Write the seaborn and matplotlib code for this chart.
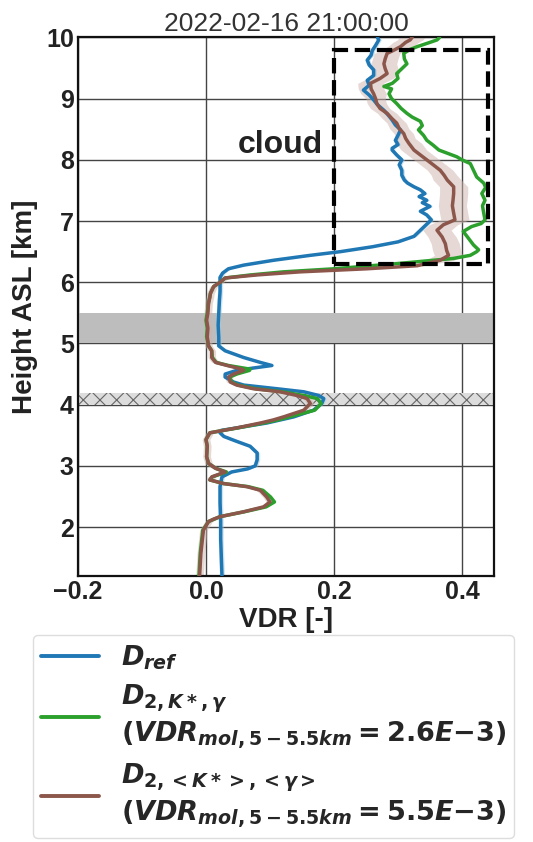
import numpy as np
import pandas as pd
import matplotlib
matplotlib.use("Agg")
import matplotlib.pyplot as plt
from matplotlib.patches import Rectangle
import seaborn as sns

# ---- profiles: height [km ASL] and volume depolarisation ratio [-] ----
ref_height = [1.20, 1.50, 1.80, 2.10, 2.40, 2.66, 2.82, 2.90, 2.95, 3.00,
              3.10, 3.21, 3.32, 3.40, 3.48, 3.54, 3.58, 3.62, 3.70, 3.80,
              3.91, 4.02, 4.10, 4.15, 4.21, 4.26, 4.32, 4.37, 4.45, 4.50,
              4.56, 4.60, 4.64, 4.69, 4.77, 4.88, 4.96, 5.10, 5.30, 5.50,
              5.70, 5.85, 6.00, 6.08, 6.15, 6.22, 6.28, 6.36, 6.44, 6.50,
              6.58, 6.66, 6.75, 6.85, 6.95, 7.02, 7.10, 7.16, 7.24, 7.30,
              7.34, 7.40, 7.45, 7.51, 7.56, 7.62, 7.67, 7.75, 7.83, 7.92,
              8.00, 8.08, 8.16, 8.19, 8.25, 8.32, 8.40, 8.49, 8.57, 8.65,
              8.73, 8.81, 8.90, 8.98, 9.06, 9.14, 9.22, 9.30, 9.38, 9.47,
              9.55, 9.63, 9.71, 9.79, 9.87, 9.96, 10.0]
ref_vdr = [0.025, 0.024, 0.023, 0.023, 0.022, 0.022, 0.025, 0.040, 0.065, 0.077,
           0.080, 0.080, 0.069, 0.048, 0.028, 0.022, 0.024, 0.048, 0.095, 0.137,
           0.168, 0.181, 0.184, 0.176, 0.153, 0.111, 0.059, 0.043, 0.030, 0.030,
           0.048, 0.075, 0.103, 0.085, 0.059, 0.030, 0.020, 0.020, 0.019, 0.020,
           0.021, 0.022, 0.022, 0.022, 0.026, 0.035, 0.059, 0.106, 0.163, 0.210,
           0.260, 0.300, 0.325, 0.335, 0.345, 0.352, 0.345, 0.335, 0.350, 0.338,
           0.345, 0.333, 0.342, 0.335, 0.325, 0.315, 0.310, 0.306, 0.306, 0.302,
           0.306, 0.298, 0.291, 0.291, 0.300, 0.296, 0.300, 0.304, 0.296, 0.291,
           0.285, 0.278, 0.268, 0.262, 0.255, 0.246, 0.255, 0.252, 0.262, 0.262,
           0.255, 0.252, 0.258, 0.260, 0.265, 0.270, 0.268]

k_height = [1.20, 1.57, 1.95, 2.09, 2.17, 2.25, 2.33, 2.41, 2.49, 2.60,
            2.66, 2.71, 2.77, 2.82, 2.90, 2.96, 3.04, 3.15, 3.32, 3.43,
            3.54, 3.57, 3.62, 3.70, 3.75, 3.80, 3.91, 4.02, 4.10, 4.15,
            4.21, 4.26, 4.32, 4.37, 4.45, 4.50, 4.56, 4.58, 4.64, 4.69,
            4.77, 4.88, 4.96, 5.11, 5.25, 5.38, 5.50, 5.66, 5.82, 5.93,
            6.00, 6.07, 6.12, 6.17, 6.22, 6.31, 6.39, 6.44, 6.50, 6.53,
            6.61, 6.72, 6.83, 6.91, 6.96, 7.02, 7.13, 7.25, 7.34, 7.45,
            7.55, 7.62, 7.72, 7.83, 7.94, 8.00, 8.05, 8.16, 8.24, 8.32,
            8.40, 8.49, 8.56, 8.63, 8.70, 8.76, 8.84, 8.92, 9.00, 9.08,
            9.16, 9.20, 9.25, 9.33, 9.41, 9.49, 9.57, 9.65, 9.74, 9.80,
            9.85, 9.92, 9.96, 10.0]
k_vdr = [-0.011, -0.009, -0.005, 0.004, 0.022, 0.060, 0.094, 0.107, 0.101, 0.089,
         0.066, 0.028, 0.006, 0.010, 0.032, 0.015, 0.004, 0.001, 0.002, 0.000,
         0.006, 0.022, 0.050, 0.090, 0.112, 0.130, 0.170, 0.180, 0.174, 0.152,
         0.120, 0.078, 0.050, 0.040, 0.037, 0.048, 0.068, 0.069, 0.035, 0.016,
         0.010, 0.009, 0.004, 0.001, 0.002, 0.000, 0.002, 0.004, 0.007, 0.012,
         0.022, 0.030, 0.070, 0.121, 0.200, 0.304, 0.387, 0.413, 0.423, 0.426,
         0.418, 0.410, 0.402, 0.415, 0.430, 0.436, 0.434, 0.432, 0.436, 0.431,
         0.437, 0.434, 0.423, 0.418, 0.413, 0.400, 0.392, 0.364, 0.355, 0.345,
         0.340, 0.332, 0.338, 0.335, 0.322, 0.314, 0.305, 0.298, 0.290, 0.286,
         0.290, 0.278, 0.291, 0.300, 0.298, 0.306, 0.314, 0.310, 0.309, 0.318,
         0.330, 0.350, 0.361, 0.365]

mean_height = [1.20, 1.57, 1.95, 2.09, 2.13, 2.17, 2.25, 2.33, 2.41, 2.49,
               2.60, 2.66, 2.71, 2.77, 2.82, 2.90, 2.96, 3.04, 3.15, 3.32,
               3.43, 3.54, 3.57, 3.62, 3.70, 3.75, 3.80, 3.91, 4.02, 4.10,
               4.15, 4.21, 4.26, 4.32, 4.37, 4.45, 4.50, 4.56, 4.58, 4.64,
               4.69, 4.77, 4.88, 4.96, 5.11, 5.25, 5.38, 5.50, 5.66, 5.75,
               5.82, 5.93, 6.00, 6.07, 6.12, 6.17, 6.22, 6.27, 6.36, 6.44,
               6.52, 6.63, 6.74, 6.85, 6.94, 7.02, 7.13, 7.25, 7.34, 7.45,
               7.56, 7.67, 7.75, 7.83, 7.92, 8.00, 8.08, 8.16, 8.27, 8.35,
               8.43, 8.51, 8.60, 8.68, 8.76, 8.84, 8.92, 9.00, 9.08, 9.16,
               9.25, 9.33, 9.41, 9.49, 9.57, 9.65, 9.74, 9.80, 9.85, 9.92,
               9.96, 10.0]
mean_vdr = [-0.010, -0.008, -0.004, 0.004, 0.012, 0.022, 0.059, 0.090, 0.100, 0.095,
            0.085, 0.064, 0.028, 0.006, 0.009, 0.030, 0.015, 0.004, 0.001, 0.002,
            0.000, 0.006, 0.022, 0.048, 0.085, 0.105, 0.121, 0.153, 0.163, 0.158,
            0.142, 0.116, 0.074, 0.048, 0.038, 0.035, 0.043, 0.059, 0.056, 0.033,
            0.015, 0.009, 0.009, 0.004, 0.002, 0.003, 0.001, 0.003, 0.004, 0.006,
            0.007, 0.012, 0.022, 0.030, 0.080, 0.147, 0.251, 0.330, 0.366, 0.379,
            0.376, 0.374, 0.369, 0.361, 0.371, 0.389, 0.387, 0.385, 0.386, 0.387,
            0.387, 0.377, 0.372, 0.366, 0.355, 0.345, 0.335, 0.325, 0.317, 0.312,
            0.309, 0.302, 0.298, 0.290, 0.283, 0.272, 0.267, 0.265, 0.262, 0.258,
            0.257, 0.272, 0.283, 0.280, 0.278, 0.280, 0.283, 0.295, 0.304, 0.312,
            0.319, 0.322]
# uncertainty of the averaged-calibration profile (half width)
mean_err = ([0.006] * 55 + [0.010] * 3 + [0.022] * 14 +
            [0.020] * 7 + [0.015] * 9 + [0.020] * 14)
ref_err = 0.004

labels = [
    r"$D_{ref}$",
    "$D_{2,K*,\\gamma}$\n$(VDR_{mol,5-5.5km} = 2.6E{-}3)$",
    "$D_{2,<K*>,<\\gamma>}$\n$(VDR_{mol,5-5.5km} = 5.5E{-}3)$",
]
colors = ["#1f77b4", "#2ca02c", "#8c564b"]

x_ticks = [-0.2, 0.0, 0.2, 0.4]
y_ticks = [2, 3, 4, 5, 6, 7, 8, 9, 10]

df = pd.concat([
    pd.DataFrame({"height": ref_height, "vdr": ref_vdr, "series": labels[0]}),
    pd.DataFrame({"height": k_height, "vdr": k_vdr, "series": labels[1]}),
    pd.DataFrame({"height": mean_height, "vdr": mean_vdr, "series": labels[2]}),
], ignore_index=True)

# ---- style ----
sns.set_style("whitegrid")
plt.rcParams["font.family"] = ["Liberation Sans", "DejaVu Sans"]
plt.rcParams["mathtext.fontset"] = "custom"
plt.rcParams["mathtext.rm"] = "DejaVu Sans:bold"
plt.rcParams["mathtext.it"] = "DejaVu Sans:italic:bold"
plt.rcParams["mathtext.bf"] = "DejaVu Sans:bold"
plt.rcParams["hatch.linewidth"] = 0.8

fig = plt.figure(figsize=(5.33, 8.42), dpi=100)
ax = fig.add_axes([0.1463, 0.3159, 0.9268 - 0.1463, 0.9555 - 0.3159])

# reference layers
ax.axhspan(5.0, 5.5, color="#bdbdbd", lw=0, zorder=1)
ax.axhspan(4.0, 4.19, facecolor="#dcdcdc", edgecolor="#666666", hatch="xx",
           lw=0, zorder=1)

# uncertainty shading
ax.fill_betweenx(ref_height, np.array(ref_vdr) - ref_err, np.array(ref_vdr) + ref_err,
                 color="#9ecae1", alpha=0.5, lw=0, zorder=2)
ax.fill_betweenx(mean_height, np.array(mean_vdr) - np.array(mean_err),
                 np.array(mean_vdr) + np.array(mean_err),
                 color="#cdb3ad", alpha=0.5, lw=0, zorder=2)

sns.lineplot(data=df, x="vdr", y="height", hue="series", hue_order=labels,
             palette=colors, orient="y", sort=False, estimator=None,
             lw=2.5, ax=ax, zorder=3)

# cloud box
ax.add_patch(Rectangle((0.2, 6.3), 0.24, 3.5, fill=False, ec="black",
                       lw=3.0, ls="--", zorder=4))
ax.text(0.183, 8.12, "cloud", ha="right", va="baseline", fontsize=23,
        fontweight="bold", color="#222222", zorder=5)

ax.set_xlim(-0.2, 0.45)
ax.set_ylim(1.2, 10)
ax.set_xticks(x_ticks)
ax.set_yticks(y_ticks)
ax.grid(True, color="#444444", lw=1.0)
ax.set_axisbelow(True)
for s in ax.spines.values():
    s.set_color("#111111")
    s.set_linewidth(1.6)
ax.tick_params(labelsize=18, colors="#222222", pad=3, length=0)
for t in ax.get_xticklabels() + ax.get_yticklabels():
    t.set_fontweight("bold")
ax.set_xlabel("VDR [-]", fontsize=20, fontweight="bold", color="#222222", labelpad=2)
ax.set_ylabel("Height ASL [km]", fontsize=20, fontweight="bold", color="#222222", labelpad=6)
ax.set_title("2022-02-16 21:00:00", fontsize=19, color="#333333", pad=5)

handles, labs = ax.get_legend_handles_labels()
ax.get_legend().remove()
fig.legend(handles, labs, loc="upper left", bbox_to_anchor=(33 / 533, 1 - 635 / 842),
           bbox_transform=fig.transFigure, fontsize=19.5, handlelength=2.15,
           handletextpad=0.8, borderpad=0.3, borderaxespad=0, frameon=True,
           framealpha=1, edgecolor="#dddddd", labelspacing=0.4)
for line in fig.legends[0].get_lines():
    line.set_linewidth(2.8)

fig.savefig("out.png", dpi=100)
